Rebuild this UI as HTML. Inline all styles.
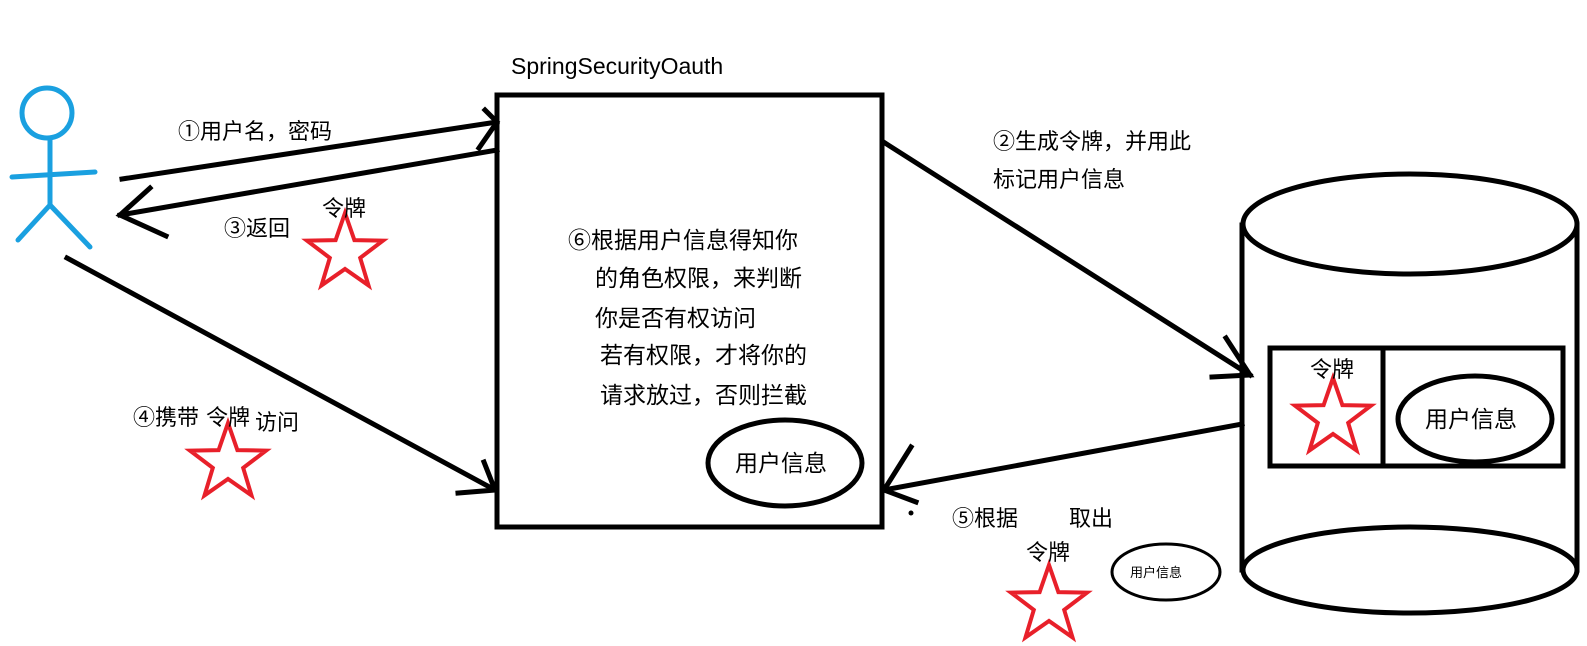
<!DOCTYPE html>
<html><head><meta charset="utf-8"><style>
html,body{margin:0;padding:0;background:#fff;}
svg{display:block;}
text{font-family:"Liberation Sans","Noto Sans CJK SC",sans-serif;fill:#000;}
</style></head><body>
<svg width="1587" height="646" viewBox="0 0 1587 646" xmlns="http://www.w3.org/2000/svg">
<g stroke="#1aa0e0" stroke-width="5" fill="none" stroke-linecap="round">
<circle cx="47" cy="113" r="25"/>
<line x1="50" y1="138" x2="50" y2="205"/>
<line x1="12" y1="177" x2="95" y2="172"/>
<line x1="18" y1="240" x2="50" y2="205"/>
<line x1="50" y1="205" x2="90" y2="247"/>
</g>
<g stroke="#000" stroke-width="5" fill="none" stroke-linecap="square">
<rect x="497" y="95" width="385" height="432"/>
<line x1="122" y1="179" x2="497" y2="122"/>
<polyline points="485,110 497,122 479,148"/>
<line x1="497" y1="150" x2="120" y2="215"/>
<polyline points="150,188 120,215 166,236"/>
<line x1="67" y1="258" x2="495" y2="490"/>
<polyline points="484,462 495,490 458,493"/>
<line x1="885" y1="143" x2="1250" y2="375"/>
<polyline points="1226,338 1250,375 1212,377"/>
<line x1="1242" y1="424" x2="884" y2="490"/>
<polyline points="911,447 884,490 916,502"/>
<line x1="1242" y1="225" x2="1242" y2="570"/>
<line x1="1577" y1="225" x2="1577" y2="570"/>
<ellipse cx="1410" cy="224" rx="167" ry="50"/>
<ellipse cx="1410" cy="570" rx="167" ry="43"/>
<rect x="1270" y="348" width="293" height="118"/>
<line x1="1383" y1="352" x2="1383" y2="466"/>
<ellipse cx="1475" cy="419" rx="77" ry="43"/>
<ellipse cx="785" cy="463" rx="77" ry="43"/>
</g>
<ellipse cx="1166" cy="572" rx="54" ry="28" stroke="#000" stroke-width="3" fill="none"/>
<circle cx="911" cy="513" r="2.5" fill="#000"/>
<g stroke="#e8202a" stroke-width="4" fill="none" stroke-linejoin="miter">
<polygon points="0,-40 9.4,-12.9 38,-12.4 15.2,4.9 23.5,32.4 0,16 -23.5,32.4 -15.2,4.9 -38,-12.4 -9.4,-12.9" transform="translate(345,253)"/>
<polygon points="0,-40 9.4,-12.9 38,-12.4 15.2,4.9 23.5,32.4 0,16 -23.5,32.4 -15.2,4.9 -38,-12.4 -9.4,-12.9" transform="translate(228,463)"/>
<polygon points="0,-40 9.4,-12.9 38,-12.4 15.2,4.9 23.5,32.4 0,16 -23.5,32.4 -15.2,4.9 -38,-12.4 -9.4,-12.9" transform="translate(1333,418)"/>
<polygon points="0,-40 9.4,-12.9 38,-12.4 15.2,4.9 23.5,32.4 0,16 -23.5,32.4 -15.2,4.9 -38,-12.4 -9.4,-12.9" transform="translate(1049,605)"/>
</g>
<text x="511" y="74" font-size="23">SpringSecurityOauth</text>
<g font-size="22">
<text x="178" y="139">①用户名，密码</text>
<text x="224" y="236">③返回</text>
<text x="322" y="216">令牌</text>
<text x="133" y="425">④携带</text>
<text x="206" y="425">令牌</text>
<text x="255" y="430">访问</text>
<text x="993" y="149">②生成令牌，并用此</text>
<text x="993" y="187">标记用户信息</text>
<text x="952" y="526">⑤根据</text>
<text x="1069" y="526">取出</text>
<text x="1026" y="560">令牌</text>
<text x="1310" y="377">令牌</text>
</g>
<g font-size="23">
<text x="568" y="248">⑥根据用户信息得知你</text>
<text x="595" y="286">的角色权限，来判断</text>
<text x="595" y="326">你是否有权访问</text>
<text x="600" y="363">若有权限，才将你的</text>
<text x="600" y="403">请求放过，否则拦截</text>
<text x="735" y="471">用户信息</text>
<text x="1425" y="427">用户信息</text>
</g>
<text x="1130" y="577" font-size="13">用户信息</text>
</svg>
</body></html>
